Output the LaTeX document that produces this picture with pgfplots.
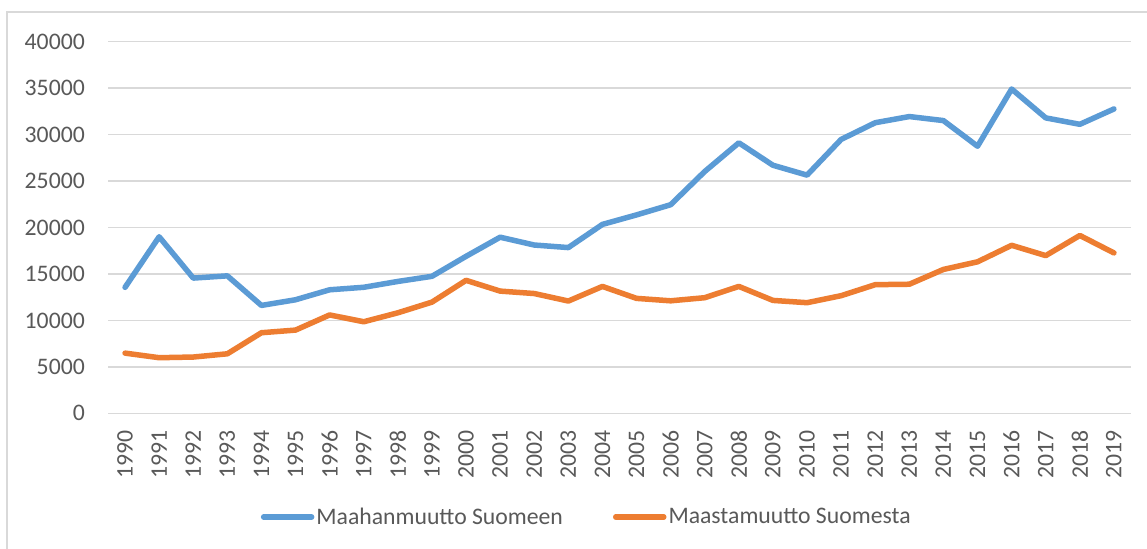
\documentclass[border=0pt]{standalone}
\usepackage{fontspec}
\setmainfont{Carlito}
\usepackage{pgfplots}
\usepackage{pgfplotstable}
\pgfplotsset{compat=1.18}
\definecolor{blu}{HTML}{5B9BD5}
\definecolor{ora}{HTML}{ED7D31}
\definecolor{gridc}{HTML}{D9D9D9}
\definecolor{txt}{HTML}{595959}
\pgfplotstableread{
year imm emi
1990 13558 6477
1991 19001 5984
1992 14554 6055
1993 14795 6405
1994 11611 8672
1995 12222 8957
1996 13294 10587
1997 13564 9854
1998 14192 10817
1999 14744 11966
2000 16895 14311
2001 18955 13153
2002 18113 12891
2003 17838 12083
2004 20333 13656
2005 21355 12369
2006 22451 12107
2007 26029 12443
2008 29114 13657
2009 26699 12151
2010 25636 11905
2011 29481 12660
2012 31278 13845
2013 31941 13893
2014 31507 15486
2015 28746 16305
2016 34905 18082
2017 31797 16973
2018 31106 19141
2019 32758 17263
}\datatable
\begin{document}
\begin{tikzpicture}[x=1bp,y=1bp]
\useasboundingbox (0,0) rectangle (1147,549);
\fill[white] (0,0) rectangle (1147,549);
\draw[gridc, line width=1.4bp] (7,0) -- (7,537) -- (1147,537);
\begin{axis}[
  at={(108bp,135.7bp)}, anchor=south west,
  scale only axis, width=1023bp, height=371.6bp,
  xmin=1989.5, xmax=2019.5, ymin=0, ymax=40000,
  xtick={1990,...,2019}, ytick={0,5000,...,40000},
  scaled y ticks=false, scaled x ticks=false,
  axis line style={draw=none},
  ymajorgrids, grid style={gridc, line width=1.5bp},
  major tick length=0pt,
  /pgf/number format/1000 sep={},
  /pgf/number format/assume math mode=true,
  tick label style={font=\fontsize{23.8}{28}\selectfont, text=txt},
  xticklabel style={rotate=90, anchor=east, inner sep=0pt},
  xticklabel shift=17bp,
  yticklabel style={anchor=east, inner sep=0pt},
  yticklabel shift=23bp,
  legend columns=2,
  legend cell align=left,
  legend image code/.code={\draw[#1, line width=5.5bp, line cap=round] (0bp,0bp) -- (48bp,0bp);},
  legend style={at={(0.468,-0.279)}, anchor=center, draw=none, fill=none,
    font=\fontsize{23.8}{28}\selectfont, text=txt,
    /tikz/every even column/.append style={column sep=48bp}},
]
\addplot[blu, line width=5.5bp, line join=round, line cap=round] table[x=year, y=imm] {\datatable};
\addlegendentry{Maahanmuutto Suomeen}
\addplot[ora, line width=5.5bp, line join=round, line cap=round] table[x=year, y=emi] {\datatable};
\addlegendentry{Maastamuutto Suomesta}
\end{axis}
\end{tikzpicture}
\end{document}
